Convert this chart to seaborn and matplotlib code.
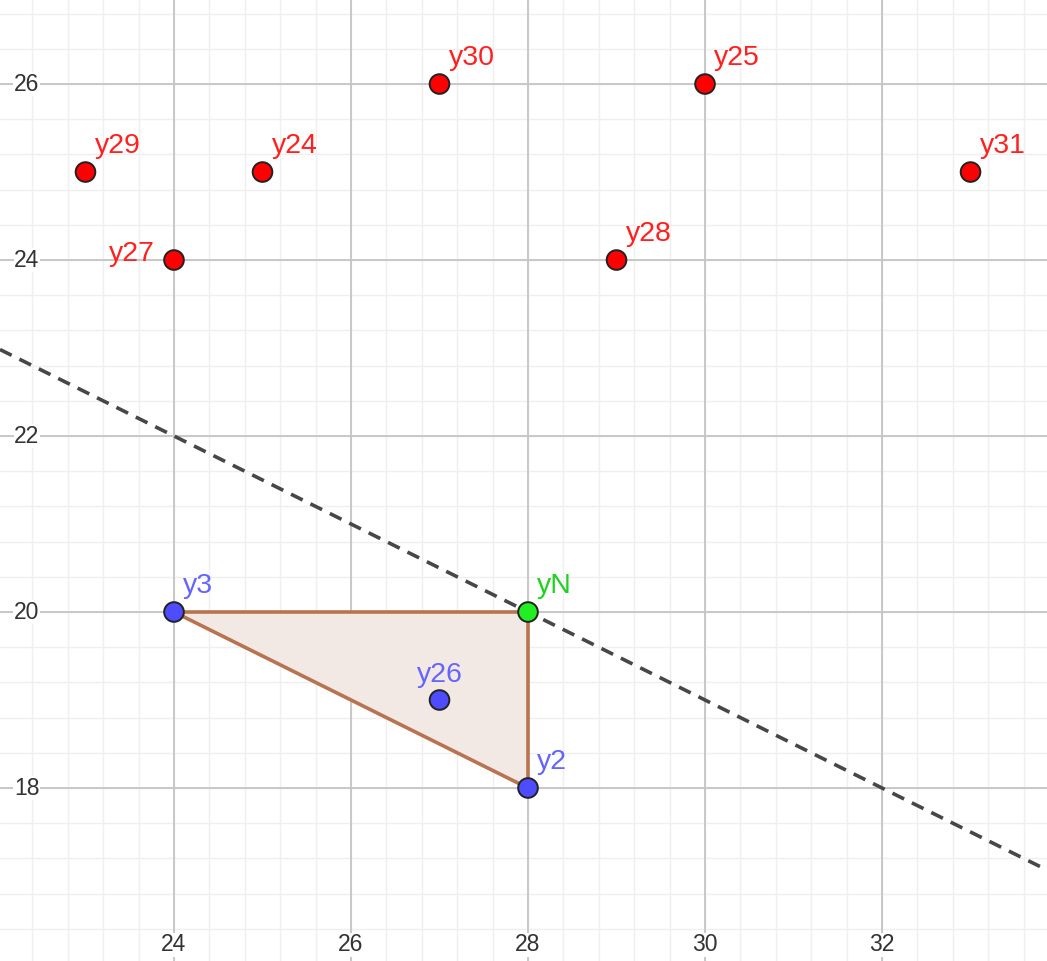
import numpy as np
import pandas as pd
import matplotlib
matplotlib.use("Agg")
import matplotlib.pyplot as plt
import matplotlib.transforms as mtransforms
import seaborn as sns

# Punkte
names = ["y24", "y25", "y27", "y28", "y29", "y30", "y31", "y2", "y3", "y26", "yN"]
xs = [25, 30, 24, 29, 23, 27, 33, 28, 24, 27, 28]
ys = [25, 26, 24, 24, 25, 26, 25, 18, 20, 19, 20]
groups = ["rot"] * 7 + ["blau"] * 3 + ["gruen"]

# Dreieck und Gerade
triangle = ["y3", "yN", "y2"]
line_slope = -0.5
line_intercept = 34

# Achsen
xlim = (22.034, 33.864)
ylim = (16.034, 26.955)
x_ticks = [24, 26, 28, 30, 32]
y_ticks = [18, 20, 22, 24, 26]

point_colors = {"rot": "#FF0000", "blau": "#4D4DFF", "gruen": "#22EE22"}
text_colors = {"rot": "#FF2020", "blau": "#6464FF", "gruen": "#1FD21F"}

df = pd.DataFrame({"name": names, "x": xs, "y": ys, "group": groups})

sns.set_style("white")
plt.rcParams["font.family"] = ["Liberation Sans", "DejaVu Sans"]

fig = plt.figure(figsize=(10.47, 9.61), dpi=100)
ax = fig.add_axes([0, 0, 1, 1])
ax.set_xlim(*xlim)
ax.set_ylim(*ylim)
for s in ax.spines.values():
    s.set_visible(False)
ax.set_xticks([])
ax.set_yticks([])

# Gitter (Hauptlinien alle 2, Nebenlinien alle 0.4)
minor = np.arange(-100, 101) * 0.4
for v in minor:
    if xlim[0] < v < xlim[1]:
        ax.axvline(v, color="#EFEFEF", lw=1.0, zorder=0)
    if ylim[0] < v < ylim[1]:
        ax.axhline(v, color="#EFEFEF", lw=1.0, zorder=0)
for v in x_ticks:
    ax.axvline(v, color="#C4C4C4", lw=1.3, zorder=0.5)
for v in y_ticks:
    ax.axhline(v, color="#C4C4C4", lw=1.3, zorder=0.5)

# Achsenbeschriftung am Rand
tx = mtransforms.blended_transform_factory(ax.transData, ax.transAxes)
for v in x_ticks:
    ax.text(v, 0.017, str(v), transform=tx, ha="center", va="center",
            fontsize=16.5, color="#333333", zorder=1,
            bbox=dict(facecolor="white", edgecolor="none", pad=0.3))
ty = mtransforms.blended_transform_factory(ax.transAxes, ax.transData)
for v in y_ticks:
    ax.text(0.0375, v, str(v), transform=ty, ha="right", va="center",
            fontsize=16.5, color="#333333", zorder=1,
            bbox=dict(facecolor="white", edgecolor="none", pad=0.3))

# Gestrichelte Gerade
ax.axline((0, line_intercept), slope=line_slope, color="#474747", lw=2.6,
          linestyle=(0, (3.6, 2.4)), zorder=2)

# Dreieck
tri = df.set_index("name").loc[triangle]
ax.fill(tri["x"], tri["y"], facecolor="#F3E9E4", edgecolor="#B87450",
        lw=2.6, zorder=3, joinstyle="round")

# Punkte
sns.scatterplot(data=df, x="x", y="y", hue="group", palette=point_colors,
                s=200, edgecolor="#222222", linewidth=1.4, legend=False,
                ax=ax, zorder=5)
ax.set_xlabel("")
ax.set_ylabel("")

# Punktnamen
for _, r in df.iterrows():
    if r["name"] == "y27":
        off, ha = (-14, -1), "right"
    elif r["name"] == "y26":
        off, ha = (0, 13), "center"
    else:
        off, ha = (6.5, 13.5), "left"
    ax.annotate(r["name"], (r["x"], r["y"]), xytext=off, textcoords="offset points",
                ha=ha, va="baseline", fontsize=20.5, color=text_colors[r["group"]],
                zorder=6)

fig.savefig("out.png", dpi=100)
